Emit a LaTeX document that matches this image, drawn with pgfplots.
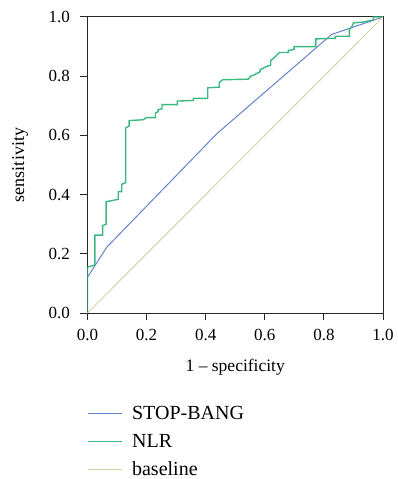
\documentclass[border=0pt]{standalone}
\usepackage{fontspec}
\setmainfont{Liberation Serif}
\usepackage{pgfplots}
\pgfplotsset{compat=1.18}
\definecolor{sbblue}{RGB}{100,130,205}
\definecolor{nlrgreen}{RGB}{60,185,128}
\definecolor{basecol}{RGB}{215,210,168}
\begin{document}
\begin{tikzpicture}
\begin{axis}[
  at={(0pt,0pt)}, anchor=south west,
  scale only axis, width=295.5pt, height=296pt,
  xmin=0, xmax=1, ymin=0, ymax=1,
  xtick={0,0.2,...,1.0}, ytick={0,0.2,...,1.0},
  xtick pos=left, ytick pos=left, tick align=outside,
  major tick length=7pt,
  axis line style={black!85, line width=1pt},
  every tick/.style={black!85, line width=1pt},
  xticklabel shift=6pt, yticklabel shift=7pt,
  xticklabel style={font=\fontsize{17}{20}\selectfont,
    /pgf/number format/fixed, /pgf/number format/fixed zerofill, /pgf/number format/precision=1, /pgf/number format/assume math mode=true},
  yticklabel style={font=\fontsize{17}{20}\selectfont,
    /pgf/number format/fixed, /pgf/number format/fixed zerofill, /pgf/number format/precision=1, /pgf/number format/assume math mode=true},
  xlabel={1 -- specificity}, ylabel={sensitivity},
  every axis x label/.style={at={(axis description cs:0.5,-0.182)}, anchor=center, font=\fontsize{17.5}{20}\selectfont},
  every axis y label/.style={at={(axis description cs:-0.228,0.5)}, rotate=90, anchor=center, font=\fontsize{18}{20}\selectfont},
  legend style={draw=none, fill=none, at={(0,0)}, anchor=north west, xshift=0pt, yshift=-92pt,
    font=\fontsize{20}{22}\selectfont, row sep=11pt, inner sep=0pt,
    nodes={inner sep=1pt},
    /tikz/every odd column/.append style={column sep=8pt}},
  legend cell align=left,
  legend image code/.code={\draw[#1] (0pt,0pt) -- (34pt,0pt);},
]
\addplot[sbblue, line width=1pt, forget plot] coordinates {(0,0.121) (0.065,0.222) (0.437,0.605) (0.826,0.941) (1,1)};
\addplot[nlrgreen, line width=1.4pt, forget plot] coordinates {
(0,0) (0,0.155) (0.025,0.162) (0.025,0.263) (0.051,0.263) (0.051,0.295) (0.063,0.30)
(0.063,0.376) (0.104,0.384) (0.104,0.41) (0.116,0.41) (0.116,0.435) (0.129,0.44)
(0.129,0.625) (0.141,0.632) (0.141,0.65) (0.189,0.653) (0.198,0.66) (0.23,0.66)
(0.23,0.675) (0.239,0.68) (0.239,0.687) (0.252,0.69) (0.252,0.704) (0.304,0.704)
(0.304,0.716) (0.358,0.718) (0.358,0.725) (0.407,0.725) (0.407,0.761) (0.446,0.763)
(0.446,0.779) (0.458,0.788) (0.544,0.79) (0.552,0.80) (0.561,0.803) (0.584,0.815)
(0.584,0.822) (0.606,0.833) (0.62,0.837) (0.62,0.853) (0.629,0.86) (0.649,0.88)
(0.68,0.88) (0.68,0.887) (0.699,0.89) (0.699,0.90) (0.773,0.90) (0.773,0.926)
(0.839,0.928) (0.839,0.935) (0.886,0.935) (0.886,0.957) (0.895,0.968) (0.9,0.98)
(0.933,0.983) (0.967,0.99) (0.967,1.0) (1,1)};
\addplot[basecol, line width=1pt, forget plot] coordinates {(0,0) (1,1)};
\addlegendimage{legend image code/.code={\draw[sbblue, line width=1.1pt] (0pt,0pt) -- (34pt,0pt);}}
\addlegendentry{STOP-BANG}
\addlegendimage{legend image code/.code={\draw[nlrgreen, line width=1.4pt] (0pt,0pt) -- (34pt,0pt);}}
\addlegendentry{NLR}
\addlegendimage{legend image code/.code={\draw[basecol, line width=1.2pt] (0pt,0pt) -- (34pt,0pt);}}
\addlegendentry{baseline}
\end{axis}
\pgfresetboundingbox
\useasboundingbox (-87.5pt,-166pt) rectangle (309.5pt,313pt);
\end{tikzpicture}
\end{document}
